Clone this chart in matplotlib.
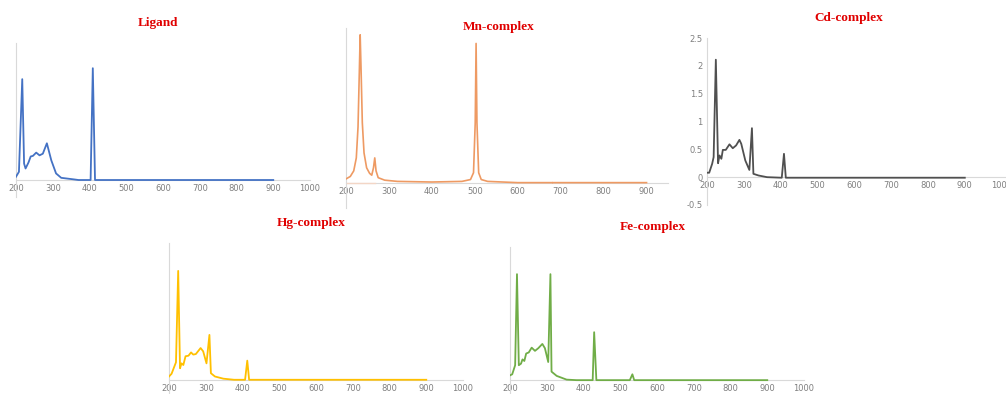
import matplotlib
matplotlib.use("Agg")
import matplotlib.pyplot as plt
import numpy as np

# spectra (wavelength nm, absorbance)
lig_x = [200, 208, 217, 222, 226, 234, 240, 246, 255, 264, 273, 284, 296, 309, 323, 359, 370, 403, 409, 415, 900]
lig_y = [0.06, 0.15, 1.84, 0.30, 0.21, 0.32, 0.43, 0.44, 0.50, 0.45, 0.48, 0.67, 0.36, 0.12, 0.04, 0.01, 0.0, 0.0, 2.04, 0.0, 0.0]

mn_x = [200, 210, 218, 224, 228, 231, 233, 235, 238, 242, 248, 255, 260, 264, 267, 270, 275, 290, 320,
        400, 470, 490, 497, 501, 503, 505, 509, 515, 530, 600, 680, 681, 683, 900]
mn_y = [0.06, 0.10, 0.19, 0.40, 0.90, 1.78, 2.39, 1.86, 0.97, 0.48, 0.24, 0.15, 0.12, 0.24, 0.40, 0.19, 0.08, 0.04, 0.02,
        0.01, 0.02, 0.05, 0.16, 0.97, 2.25, 0.97, 0.16, 0.05, 0.02, 0.0, 0.0, np.nan, 0.0, 0.0]
mn_ghost_x = [203, 268]
mn_ghost_y = [0.0, 0.0]

cd_x = [200, 206, 214, 218, 224, 230, 234, 239, 243, 251, 261, 270, 279, 288, 293, 304, 315, 322, 326, 340,
        363, 403, 409, 414, 900]
cd_y = [0.08, 0.08, 0.24, 0.36, 2.11, 0.25, 0.39, 0.33, 0.49, 0.49, 0.59, 0.52, 0.57, 0.67, 0.60, 0.30, 0.13, 0.88, 0.06, 0.03,
        0.0, -0.01, 0.42, -0.01, -0.01]

hg_x = [200, 207, 219, 225, 230, 234, 239, 245, 253, 260, 266, 273, 286, 293, 302, 310, 314, 325, 348,
        377, 407, 413, 418, 900]
hg_y = [0.06, 0.11, 0.32, 1.99, 0.21, 0.30, 0.27, 0.43, 0.44, 0.50, 0.46, 0.47, 0.58, 0.52, 0.30, 0.82, 0.12, 0.06, 0.02,
        0.0, 0.0, 0.35, 0.0, 0.0]

fe_x = [200, 206, 214, 219, 224, 230, 234, 239, 244, 251, 259, 268, 277, 288, 295, 304, 310, 313, 327, 354,
        381, 425, 429, 435, 486, 526, 533, 538, 900]
fe_y = [0.09, 0.11, 0.28, 1.99, 0.28, 0.31, 0.39, 0.36, 0.50, 0.52, 0.61, 0.55, 0.60, 0.68, 0.60, 0.34, 1.99, 0.16, 0.08, 0.01,
        0.0, 0.0, 0.90, 0.0, 0.0, 0.0, 0.11, 0.0, 0.0]

W, H = 1006, 394
fig = plt.figure(figsize=(W / 100, H / 100), dpi=100)

grey = "#d9d9d9"
tick_col = "#7f7f7f"


def panel(left, right, top, bottom, xlim, ylim, xticks, yticks=None):
    # place an axes by pixel box (top/bottom are pixel rows)
    ax = fig.add_axes([left / W, 1 - bottom / H, (right - left) / W, (bottom - top) / H])
    ax.set_xlim(*xlim)
    ax.set_ylim(*ylim)
    ax.patch.set_alpha(0)
    for s in ["top", "right"]:
        ax.spines[s].set_visible(False)
    ax.spines["left"].set_color(grey)
    ax.spines["bottom"].set_color(grey)
    ax.spines["left"].set_linewidth(0.8)
    ax.spines["bottom"].set_linewidth(0.8)
    ax.spines["bottom"].set_position(("data", 0))
    ax.set_xticks(xticks)
    ax.set_xticklabels([str(t) for t in xticks])
    if yticks is None:
        ax.set_yticks([])
    else:
        ax.set_yticks(yticks)
        ax.set_yticklabels([("%g" % t) for t in yticks])
    ax.tick_params(length=0, labelsize=6, labelcolor=tick_col, pad=3)
    return ax


def title(x, y, s):
    fig.text(x / W, 1 - y / H, s, ha="center", va="center", color="#e00000",
             fontsize=9.5, fontweight="bold", family="Liberation Serif")


ticks_full = [200, 300, 400, 500, 600, 700, 800, 900, 1000]

ax1 = panel(16, 310, 43, 197, (200, 1000), (-0.31, 2.5), ticks_full)
ax1.plot(lig_x, lig_y, color="#4472c4", lw=1.3, zorder=3)
title(158, 23, "Ligand")

ax2 = panel(346, 668, 28, 208, (200, 950), (-0.41, 2.5), ticks_full[:-1])
ax2.plot(mn_ghost_x, mn_ghost_y, color="#f3d6c6", lw=1.0, zorder=3)
ax2.plot(mn_x, mn_y, color="#ee9a63", lw=1.2, zorder=3)
title(499, 27, "Mn-complex")

ax3 = panel(707, 1009, 38, 205, (200, 1020), (-0.5, 2.5), ticks_full, [-0.5, 0, 0.5, 1, 1.5, 2, 2.5])
ax3.plot(cd_x, cd_y, color="#505050", lw=1.3, zorder=3)
title(849, 18, "Cd-complex")

ax4 = panel(169, 463, 243, 394, (200, 1000), (-0.26, 2.5), ticks_full)
ax4.plot(hg_x, hg_y, color="#ffc000", lw=1.3, zorder=3)
title(311, 223, "Hg-complex")

ax5 = panel(510, 804, 247, 394, (200, 1000), (-0.26, 2.5), ticks_full)
ax5.plot(fe_x, fe_y, color="#70ad47", lw=1.3, zorder=3)
title(653, 227, "Fe-complex")

fig.savefig("out.png", dpi=100)
